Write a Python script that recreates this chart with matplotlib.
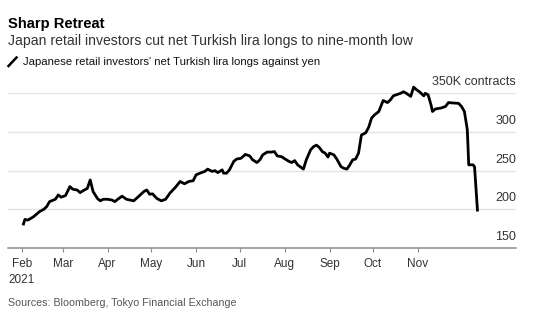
import matplotlib
matplotlib.use("Agg")
import matplotlib.pyplot as plt
from matplotlib.lines import Line2D
import pandas as pd

plt.rcParams['font.family'] = ['Liberation Sans', 'DejaVu Sans']

# net long positions, thousands of contracts
dates = [
    "2021-02-02", "2021-02-03", "2021-02-05", "2021-02-09", "2021-02-13", "2021-02-16",
    "2021-02-18", "2021-02-20", "2021-02-24", "2021-02-26", "2021-02-28", "2021-03-03",
    "2021-03-06", "2021-03-08", "2021-03-11", "2021-03-13", "2021-03-15", "2021-03-18",
    "2021-03-20", "2021-03-22", "2021-03-25", "2021-03-27", "2021-03-29", "2021-04-01",
    "2021-04-04", "2021-04-06", "2021-04-08", "2021-04-11", "2021-04-14", "2021-04-19",
    "2021-04-22", "2021-04-26", "2021-04-28", "2021-04-30", "2021-05-02", "2021-05-05",
    "2021-05-08", "2021-05-11", "2021-05-14", "2021-05-18", "2021-05-21", "2021-05-24",
    "2021-05-27", "2021-05-30", "2021-06-01", "2021-06-04", "2021-06-07", "2021-06-09",
    "2021-06-12", "2021-06-14", "2021-06-16", "2021-06-19", "2021-06-20", "2021-06-22",
    "2021-06-24", "2021-06-27", "2021-06-29", "2021-07-02", "2021-07-05", "2021-07-08",
    "2021-07-10", "2021-07-13", "2021-07-15", "2021-07-17", "2021-07-20", "2021-07-23",
    "2021-07-25", "2021-07-27", "2021-07-30", "2021-08-01", "2021-08-04", "2021-08-06",
    "2021-08-08", "2021-08-10", "2021-08-14", "2021-08-16", "2021-08-19", "2021-08-21",
    "2021-08-23", "2021-08-25", "2021-08-27", "2021-08-29", "2021-08-31", "2021-09-01",
    "2021-09-04", "2021-09-06", "2021-09-09", "2021-09-11", "2021-09-13", "2021-09-15",
    "2021-09-17", "2021-09-19", "2021-09-21", "2021-09-23", "2021-09-26", "2021-09-28",
    "2021-09-30", "2021-10-02", "2021-10-05", "2021-10-08", "2021-10-11", "2021-10-13",
    "2021-10-15", "2021-10-17", "2021-10-20", "2021-10-22", "2021-10-24", "2021-10-27",
    "2021-10-29", "2021-10-31", "2021-11-02", "2021-11-05", "2021-11-06", "2021-11-08",
    "2021-11-10", "2021-11-11", "2021-11-13", "2021-11-17", "2021-11-20", "2021-11-22",
    "2021-11-25", "2021-11-29", "2021-12-01", "2021-12-03", "2021-12-05", "2021-12-06",
    "2021-12-09", "2021-12-10", "2021-12-12",
]
longs = [
    181, 187, 186, 190.5, 197, 200,
    203.5, 210, 213, 218.6, 215.7, 217.8,
    229.4, 226, 225, 221.6, 224, 227,
    238, 223, 214, 211, 213, 213,
    212, 210, 213, 217, 213, 211,
    216, 223, 225, 219.5, 220, 214,
    211, 213, 221, 229, 236, 233,
    236, 237, 244.6, 247, 249, 252,
    249, 250, 247.5, 251, 246.7, 246.7,
    251, 262, 265, 266, 271, 269,
    264, 260.5, 264, 270.5, 274, 274,
    274.7, 269, 268, 265.5, 262, 260.5,
    263, 257.5, 252, 264, 277, 281,
    283, 280, 274.7, 272.6, 267.5, 272.6,
    270.5, 265, 255, 253, 252, 257.5,
    264, 265, 272.6, 296, 299, 306,
    318, 322, 326.5, 340.7, 338, 341.5,
    346.7, 348, 350, 352, 350, 346,
    358, 354.6, 352, 346.7, 350, 348,
    335, 326.5, 329.7, 331, 333, 338,
    337.5, 337, 333, 326.5, 303, 257.5,
    257.5, 255, 199,
]

yticks = [150, 200, 250, 300, 350]
ytick_labels = ["150", "200", "250", "300", "350K contracts"]
month_starts = pd.date_range("2021-02-01", "2021-11-01", freq="MS")
month_labels = ["Feb\n2021", "Mar", "Apr", "May", "Jun", "Jul", "Aug", "Sep", "Oct", "Nov"]

W, H = 554, 324
fig = plt.figure(figsize=(W / 100, H / 100), dpi=100)
ax = fig.add_axes([8 / W, (H - 248) / H, (516 - 8) / W, (248 - 93.3) / H])

x = pd.to_datetime(dates)
ax.plot(x, longs, color="black", lw=2.0, solid_joinstyle="round", clip_on=False, zorder=3)

ax.set_ylim(150, 350)
ax.set_xlim(pd.Timestamp("2021-01-22 08:00"), pd.Timestamp("2022-01-07 14:00"))

# gridlines and right-hand labels sitting just above them
for v, lab in zip(yticks, ytick_labels):
    if v > 150:
        ax.axhline(v, color="#e3e3e3", lw=1.0, zorder=1)
    ax.annotate(lab, xy=(1.0, v), xycoords=ax.get_yaxis_transform(),
                xytext=(0, 5.8), textcoords="offset points",
                ha="right", va="baseline", fontsize=9, color="#333333")

ax.set_yticks([])
for s in ["top", "left", "right"]:
    ax.spines[s].set_visible(False)
ax.spines["bottom"].set_color("#8c8c8c")
ax.spines["bottom"].set_linewidth(1.1)

ax.set_xticks(month_starts)
ax.set_xticklabels(month_labels, fontsize=8.5, color="#333333", linespacing=1.35)
ax.tick_params(axis="x", length=3, width=0.8, color="#8c8c8c", pad=4.5)

# header
fig.text(8 / W, 1 - 28 / H, "Sharp Retreat", fontsize=10.6, fontweight="bold",
         color="black", va="baseline", ha="left")
fig.text(8 / W, 1 - 45.5 / H,
         "Japan retail investors cut net Turkish lira longs to nine-month low",
         fontsize=10.1, color="#333333", va="baseline", ha="left")
fig.add_artist(Line2D([8.5 / W, 16.5 / W], [1 - 66 / H, 1 - 57.5 / H],
                      color="black", lw=1.8, transform=fig.transFigure))
fig.text(23 / W, 1 - 65.3 / H,
         "Japanese retail investors' net Turkish lira longs against yen",
         fontsize=8.2, color="#111111", va="baseline", ha="left")

fig.text(8 / W, 1 - 306.5 / H, "Sources: Bloomberg, Tokyo Financial Exchange",
         fontsize=7.7, color="#555555", va="baseline", ha="left")

fig.savefig("out.png", dpi=100)
